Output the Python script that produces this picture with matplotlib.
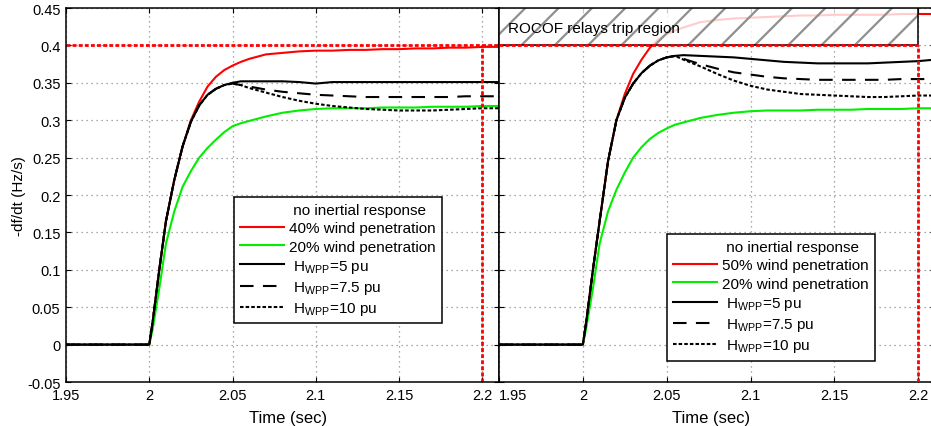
import numpy as np
import matplotlib
matplotlib.use('Agg')
from matplotlib import pyplot as plt
from matplotlib.lines import Line2D
from matplotlib.patches import Rectangle
from matplotlib.ticker import FormatStrFormatter

plt.rcParams['font.family'] = ['Liberation Sans', 'DejaVu Sans']
plt.rcParams['mathtext.default'] = 'regular'
plt.rcParams['hatch.linewidth'] = 1.6

# time axis (sec)
t = [1.95, 2.0, 2.002, 2.006, 2.01, 2.015, 2.02, 2.025, 2.03, 2.035, 2.04, 2.045, 2.05, 2.055,
     2.06, 2.07, 2.08, 2.09, 2.1, 2.11, 2.12, 2.13, 2.14, 2.15, 2.16, 2.17, 2.18, 2.19, 2.2, 2.21]

# left panel: 40% wind penetration case
red40 = [0, 0, 0.03, 0.10, 0.165, 0.22, 0.265, 0.30, 0.325, 0.345, 0.358, 0.367, 0.373, 0.378,
         0.382, 0.388, 0.390, 0.392, 0.393, 0.393, 0.394, 0.394, 0.395, 0.395, 0.396, 0.396, 0.397, 0.397, 0.398, 0.398]
green20_l = [0, 0, 0.02, 0.075, 0.135, 0.178, 0.211, 0.232, 0.250, 0.263, 0.274, 0.284, 0.292, 0.296,
             0.299, 0.305, 0.310, 0.313, 0.315, 0.316, 0.316, 0.316, 0.317, 0.317, 0.317, 0.318, 0.318, 0.318, 0.319, 0.319]
h5_l = [0, 0, 0.03, 0.10, 0.165, 0.22, 0.265, 0.298, 0.320, 0.334, 0.342, 0.347, 0.350, 0.352,
        0.352, 0.352, 0.352, 0.351, 0.349, 0.351, 0.351, 0.351, 0.351, 0.351, 0.351, 0.351, 0.351, 0.351, 0.351, 0.351]
h75_l = [0, 0, 0.03, 0.10, 0.165, 0.22, 0.265, 0.298, 0.320, 0.334, 0.342, 0.347, 0.349, 0.347,
         0.345, 0.341, 0.338, 0.336, 0.334, 0.333, 0.332, 0.331, 0.331, 0.331, 0.331, 0.331, 0.331, 0.332, 0.332, 0.332]
h10_l = [0, 0, 0.03, 0.10, 0.165, 0.22, 0.265, 0.298, 0.320, 0.334, 0.342, 0.347, 0.349, 0.347,
         0.343, 0.337, 0.331, 0.326, 0.322, 0.319, 0.317, 0.315, 0.314, 0.313, 0.313, 0.313, 0.314, 0.315, 0.316, 0.316]

# right panel: 50% wind penetration case
red50 = [0, 0, 0.03, 0.10, 0.165, 0.245, 0.30, 0.335, 0.362, 0.381, 0.397, 0.408, 0.415, 0.420,
         0.424, 0.431, 0.434, 0.436, 0.437, 0.438, 0.439, 0.440, 0.440, 0.441, 0.441, 0.441, 0.441, 0.442, 0.442, 0.442]
green20_r = [0, 0, 0.022, 0.075, 0.135, 0.178, 0.207, 0.230, 0.250, 0.264, 0.275, 0.283, 0.289, 0.294,
             0.297, 0.303, 0.307, 0.310, 0.312, 0.313, 0.313, 0.313, 0.314, 0.314, 0.314, 0.315, 0.315, 0.315, 0.316, 0.316]
h5_r = [0, 0, 0.03, 0.10, 0.165, 0.245, 0.30, 0.330, 0.349, 0.363, 0.373, 0.380, 0.384, 0.386,
        0.387, 0.386, 0.385, 0.384, 0.382, 0.380, 0.378, 0.377, 0.376, 0.376, 0.376, 0.376, 0.377, 0.378, 0.379, 0.381]
h75_r = [0, 0, 0.03, 0.10, 0.165, 0.245, 0.30, 0.330, 0.349, 0.363, 0.373, 0.380, 0.384, 0.386,
         0.382, 0.375, 0.369, 0.364, 0.361, 0.358, 0.356, 0.355, 0.354, 0.354, 0.354, 0.354, 0.354, 0.355, 0.355, 0.355]
h10_r = [0, 0, 0.03, 0.10, 0.165, 0.245, 0.30, 0.330, 0.349, 0.363, 0.373, 0.380, 0.384, 0.386,
         0.381, 0.372, 0.362, 0.353, 0.346, 0.341, 0.338, 0.335, 0.334, 0.333, 0.332, 0.331, 0.331, 0.332, 0.333, 0.333]

rocof_limit = 0.4
t_limit = 2.2
xticks = [1.95, 2, 2.05, 2.1, 2.15, 2.2]
yticks = np.arange(-0.05, 0.451, 0.05)

fig = plt.figure(figsize=(9.31, 4.27), dpi=100)
ax1 = fig.add_axes([0.0709, 0.1030, 0.4651, 0.8759])
ax2 = fig.add_axes([0.5360, 0.1030, 0.4683, 0.8759])

dash_style = (0, (6.5, 4.5))
dot_style = (0, (1.7, 1.0))
red_dot = (0, (1.4, 0.8))


def setup(ax):
    ax.set_xlim(1.95, 2.21)
    ax.set_ylim(-0.05, 0.45)
    ax.set_xticks(xticks)
    ax.set_yticks(yticks)
    ax.xaxis.set_major_formatter(FormatStrFormatter('%g'))
    ax.yaxis.set_major_formatter(FormatStrFormatter('%g'))
    ax.grid(True, color='#8c8c8c', linestyle=(0, (1, 3)), linewidth=0.9)
    ax.tick_params(direction='in', length=3.5, width=0.8, top=True, right=True, labelsize=10.5, pad=4)
    for s in ax.spines.values():
        s.set_linewidth(1.1)
    ax.set_xlabel('Time (sec)', fontsize=12, labelpad=5)


def legend(ax, first_label, pos):
    handles = [Line2D([], [], color='none'),
               Line2D([], [], color='red', lw=1.5),
               Line2D([], [], color='#00ee00', lw=1.5),
               Line2D([], [], color='black', lw=1.5),
               Line2D([], [], color='black', lw=1.5, linestyle=dash_style),
               Line2D([], [], color='black', lw=1.5, linestyle=dot_style)]
    labels = [' no inertial response', first_label, '20% wind penetration',
              ' H$_{WPP}$=5 pu', ' H$_{WPP}$=7.5 pu', ' H$_{WPP}$=10 pu']
    leg = ax.legend(handles, labels, loc='upper left', bbox_to_anchor=pos, fontsize=11,
                    frameon=True, fancybox=False, framealpha=1, edgecolor='black',
                    handlelength=2.9, handletextpad=0.3, labelspacing=0.28,
                    borderpad=0.4, borderaxespad=0)
    leg.get_frame().set_linewidth(1.1)
    leg.set_zorder(10)


# left panel
setup(ax1)
ax1.plot(t, red40, color='red', lw=1.5)
ax1.plot(t, green20_l, color='#00ee00', lw=1.5)
ax1.plot(t, h5_l, color='black', lw=1.5)
ax1.plot(t, h75_l, color='black', lw=1.5, linestyle=dash_style)
ax1.plot(t, h10_l, color='black', lw=1.5, linestyle=dot_style)
ax1.plot([1.95, 2.21], [rocof_limit, rocof_limit], color='red', lw=2, linestyle=red_dot)
ax1.plot([t_limit, t_limit], [-0.05, rocof_limit], color='red', lw=2, linestyle=red_dot)
ax1.set_ylabel('-df/dt (Hz/s)', fontsize=11)
ax1.yaxis.set_label_coords(-0.092, 0.5)
ax1.xaxis.set_label_coords(0.513, -0.075)
legend(ax1, '40% wind penetration', (0.388, 0.495))

# right panel
setup(ax2)
ax2.tick_params(labelleft=False)
ax2.plot(t, red50, color='red', lw=1.5)
ax2.plot(t, green20_r, color='#00ee00', lw=1.5)
ax2.plot(t, h5_r, color='black', lw=1.5)
ax2.plot(t, h75_r, color='black', lw=1.5, linestyle=dash_style)
ax2.plot(t, h10_r, color='black', lw=1.5, linestyle=dot_style)
ax2.xaxis.set_label_coords(0.487, -0.075)

# ROCOF trip region (hatched box)
ax2.add_patch(Rectangle((1.95, rocof_limit), t_limit - 1.95, 0.05, facecolor='white', alpha=0.8,
                        edgecolor='none', zorder=4))
ax2.add_patch(Rectangle((1.95, rocof_limit), t_limit - 1.95, 0.05, fill=False, hatch='/',
                        edgecolor='#8f8f8f', linewidth=0, zorder=5))
ax2.add_patch(Rectangle((1.95, rocof_limit), t_limit - 1.95, 0.05, fill=False,
                        edgecolor='black', linewidth=1.1, zorder=6))
ax2.text(1.9555, 0.4235, 'ROCOF relays trip region', fontsize=11, va='center', ha='left', zorder=7)
ax2.plot([1.95, t_limit], [rocof_limit, rocof_limit], color='red', lw=2, linestyle=red_dot, zorder=8)
ax2.plot([t_limit, t_limit], [-0.05, rocof_limit], color='red', lw=2, linestyle=red_dot, zorder=8)
ax2.xaxis.get_major_ticks()[0].label1.set_horizontalalignment('left')
legend(ax2, '50% wind penetration', (0.385, 0.396))

plt.savefig('out.png', dpi=100)
